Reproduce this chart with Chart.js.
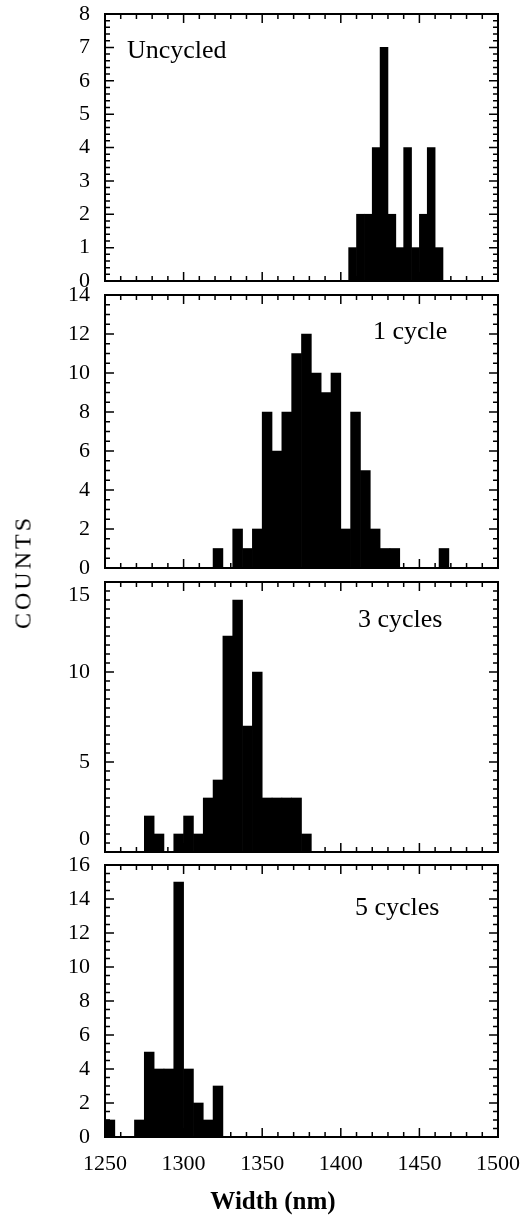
<!DOCTYPE html>
<html>
<head>
<meta charset="utf-8">
<script src="https://cdn.jsdelivr.net/npm/chart.js@4.4.1/dist/chart.umd.min.js"></script>
<style>
  body { margin: 0; background: #fff; }
  #wrap { position: relative; width: 521px; height: 1217px; overflow: hidden; font-family: 'Liberation Serif', 'Times New Roman', serif; color: #000; }
  #wrap canvas { position: absolute; left: 0; }
  .ytitle { position: absolute; left: 23px; top: 572px; transform: translate(-50%, -50%) rotate(-90deg); font-size: 24px; letter-spacing: 3px; white-space: nowrap; }
  .xtitle { position: absolute; left: 273px; top: 1201px; transform: translate(-50%, -50%); font-size: 25px; font-weight: bold; white-space: nowrap; }
</style>
</head>
<body>
<div id="wrap">
  <canvas id="c-uncycled"></canvas>
  <canvas id="c-1cycle"></canvas>
  <canvas id="c-3cycles"></canvas>
  <canvas id="c-5cycles"></canvas>
  <div class="ytitle">COUNTS</div>
  <div class="xtitle">Width (nm)</div>
</div>
<script>
const SERIF = "'Liberation Serif', 'Times New Roman', serif";

// left edge of each bin (nm) and its count
const uncycledBin = 5;
const uncycledEdges = [1405, 1410, 1415, 1420, 1425, 1430, 1435, 1440, 1445, 1450, 1455, 1460];
const uncycledCounts = [1, 2, 2, 4, 7, 2, 1, 4, 1, 2, 4, 1];

const cycle1Bin = 6.25;
const cycle1Edges = [1318.75, 1325, 1331.25, 1337.5, 1343.75, 1350, 1356.25, 1362.5, 1368.75, 1375, 1381.25, 1387.5,
  1393.75, 1400, 1406.25, 1412.5, 1418.75, 1425, 1431.25, 1437.5, 1443.75, 1450, 1456.25, 1462.5];
const cycle1Counts = [1, 0, 2, 1, 2, 8, 6, 8, 11, 12, 10, 9, 10, 2, 8, 5, 2, 1, 1, 0, 0, 0, 0, 1];

const cycle3Bin = 6.25;
const cycle3Edges = [1275, 1281.25, 1287.5, 1293.75, 1300, 1306.25, 1312.5, 1318.75, 1325, 1331.25, 1337.5, 1343.75,
  1350, 1356.25, 1362.5, 1368.75, 1375];
const cycle3Counts = [2, 1, 0, 1, 2, 1, 3, 4, 12, 14, 7, 10, 3, 3, 3, 3, 1];

const cycle5Bin = 6.25;
const cycle5Edges = [1250, 1256.25, 1262.5, 1268.75, 1275, 1281.25, 1287.5, 1293.75, 1300, 1306.25, 1312.5, 1318.75];
const cycle5Counts = [1, 0, 0, 1, 5, 4, 4, 15, 4, 2, 1, 3];

const xTicks = [1250, 1300, 1350, 1400, 1450, 1500];

// inward tick marks on all four sides, box and panel caption
const frame = {
  id: 'frame',
  afterDatasetsDraw(chart, args, o) {
    const { ctx, chartArea: a, scales: { x, y } } = chart;
    ctx.save();
    ctx.strokeStyle = '#000';
    ctx.lineWidth = 1.5;
    ctx.beginPath();
    const marks = (scale, step, len) => {
      const n = Math.round((scale.max - scale.min) / step);
      for (let i = 0; i <= n; i++) {
        const p = scale.getPixelForValue(scale.min + i * step);
        if (scale.isHorizontal()) {
          ctx.moveTo(p, a.bottom); ctx.lineTo(p, a.bottom - len);
          ctx.moveTo(p, a.top); ctx.lineTo(p, a.top + len);
        } else {
          ctx.moveTo(a.left, p); ctx.lineTo(a.left + len, p);
          ctx.moveTo(a.right, p); ctx.lineTo(a.right - len, p);
        }
      }
    };
    marks(x, 10, 5);
    marks(x, 50, 9);
    marks(y, o.yMinor, 5);
    marks(y, o.yMajor, 9);
    ctx.stroke();
    ctx.lineWidth = 2;
    ctx.strokeRect(a.left, a.top, a.width, a.height);
    ctx.fillStyle = '#000';
    ctx.font = '26px ' + SERIF;
    ctx.textAlign = 'left';
    ctx.textBaseline = 'alphabetic';
    ctx.fillText(o.text, a.left + o.dx, a.top + o.dy);
    ctx.restore();
  }
};

function histogram(id, cfg) {
  const canvas = document.getElementById(id);
  canvas.width = 521;
  canvas.height = cfg.height;
  canvas.style.top = cfg.top + 'px';
  const showX = !!cfg.showX;

  return new Chart(canvas, {
    type: 'bar',
    data: {
      datasets: [{
        data: cfg.edges.map((e, i) => ({ x: e + cfg.bin / 2, y: cfg.counts[i] })),
        backgroundColor: '#000',
        borderWidth: 0,
        barPercentage: 1,
        categoryPercentage: 1
      }]
    },
    options: {
      responsive: false,
      animation: false,
      devicePixelRatio: 1,
      layout: { padding: { top: 14, right: 23, bottom: showX ? 0 : 14, left: 0 } },
      plugins: {
        legend: { display: false },
        tooltip: { enabled: false },
        frame: { text: cfg.text, dx: cfg.dx, dy: cfg.dy, yMajor: cfg.yStep, yMinor: cfg.yMinor }
      },
      scales: {
        x: {
          type: 'linear', min: 1250, max: 1500, offset: false, display: showX,
          grid: { display: false }, border: { display: false },
          afterBuildTicks: s => { s.ticks = xTicks.map(v => ({ value: v })); },
          ticks: {
            color: '#000', font: { family: SERIF, size: 22 }, padding: 6, maxRotation: 0, autoSkip: false,
            callback: v => String(v)
          },
          afterFit: s => { s.height = showX ? 80 : 0; s.paddingLeft = 0; s.paddingRight = 0; }
        },
        y: {
          min: 0, max: cfg.yMax,
          grid: { display: false }, border: { display: false },
          ticks: {
            stepSize: cfg.yStep, autoSkip: false, color: '#000', font: { family: SERIF, size: 22 }, padding: 7,
            callback: cfg.yLabel || (v => String(v))
          },
          afterFit: s => { s.width = 105; s.paddingTop = 0; s.paddingBottom = 0; }
        }
      }
    },
    plugins: [frame]
  });
}

histogram('c-uncycled', {
  top: 0, height: 295, edges: uncycledEdges, counts: uncycledCounts, bin: uncycledBin,
  yMax: 8, yStep: 1, yMinor: 0.2, text: 'Uncycled', dx: 22, dy: 44
});
histogram('c-1cycle', {
  top: 281, height: 301, edges: cycle1Edges, counts: cycle1Counts, bin: cycle1Bin,
  yMax: 14, yStep: 2, yMinor: 0.5, text: '1 cycle', dx: 268, dy: 44
});
histogram('c-3cycles', {
  top: 568, height: 298, edges: cycle3Edges, counts: cycle3Counts, bin: cycle3Bin,
  yMax: 15, yStep: 5, yMinor: 0.5, text: '3 cycles', dx: 253, dy: 45,
  // the original prints its outer labels a little inside the box
  yLabel: v => v === 15 ? ['', '15'] : v === 0 ? ['0', ''] : String(v)
});
histogram('c-5cycles', {
  top: 851, height: 366, edges: cycle5Edges, counts: cycle5Counts, bin: cycle5Bin,
  yMax: 16, yStep: 2, yMinor: 0.5, text: '5 cycles', dx: 250, dy: 50, showX: true
});
</script>
</body>
</html>
